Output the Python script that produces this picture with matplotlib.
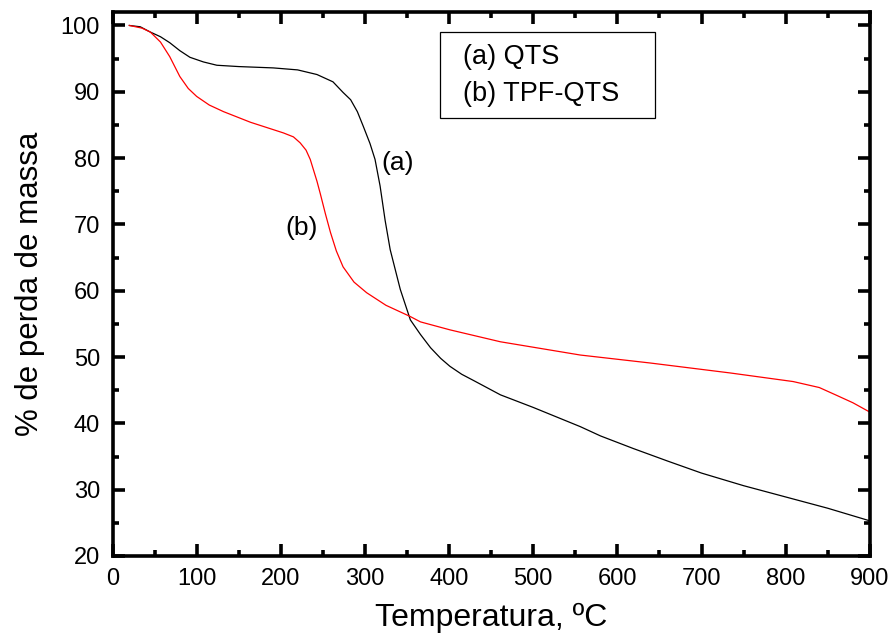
import numpy as np
import matplotlib
matplotlib.use("Agg")
import matplotlib.pyplot as plt
from matplotlib.patches import Rectangle
from matplotlib.ticker import MultipleLocator

plt.rcParams["font.family"] = ["Liberation Sans", "DejaVu Sans"]

# === dados ===
# (a) QTS
temp_a = [20, 33, 45, 57, 68, 80, 92, 108, 124, 150, 191, 220, 243, 262, 274, 283,
          291, 298, 306, 312, 318, 324, 330, 342, 354, 366, 378, 390, 401, 415, 430, 461, 500,
          556, 580, 619, 660, 700, 750, 800, 850, 900]
massa_a = [100, 99.8, 99.0, 98.3, 97.4, 96.2, 95.2, 94.5, 94.0, 93.8, 93.6, 93.3, 92.6, 91.5, 89.9, 88.8,
           87.0, 84.8, 82.2, 79.8, 75.8, 70.6, 66.2, 60.2, 55.6, 53.4, 51.4, 49.8, 48.6, 47.4, 46.4, 44.3, 42.4,
           39.5, 38.1, 36.2, 34.3, 32.5, 30.6, 28.9, 27.2, 25.3]

# (b) TPF-QTS
temp_b = [20, 35, 45, 57, 68, 80, 90, 100, 115, 132, 164, 203, 215, 223, 230, 235,
          243, 247, 253, 259, 266, 274, 287, 302, 325, 354, 366, 401, 461, 556,
          639, 734, 809, 840, 861, 880, 900]
massa_b = [100, 99.6, 99.0, 97.5, 95.3, 92.3, 90.5, 89.3, 88.0, 87.0, 85.4, 83.8, 83.2, 82.3, 81.2, 79.8,
           76.5, 74.6, 71.6, 68.8, 66.0, 63.6, 61.3, 59.7, 57.8, 56.1, 55.3, 54.1, 52.3, 50.3,
           49.1, 47.6, 46.3, 45.4, 44.2, 43.1, 41.7]

rotulos = ["(a) QTS", "(b) TPF-QTS"]

fig = plt.figure(figsize=(8.93, 6.42), dpi=100)
ax = fig.add_axes([0.126, 0.134, 0.848, 0.847])

ax.plot(temp_a, massa_a, color="black", lw=0.9)
ax.plot(temp_b, massa_b, color="red", lw=0.9)

ax.set_xlim(0, 900)
ax.set_ylim(20, 102)
ax.xaxis.set_major_locator(MultipleLocator(100))
ax.xaxis.set_minor_locator(MultipleLocator(50))
ax.yaxis.set_major_locator(MultipleLocator(10))
ax.yaxis.set_minor_locator(MultipleLocator(5))

for s in ax.spines.values():
    s.set_linewidth(2.6)
ax.tick_params(which="both", direction="in", top=True, right=True, width=2.6)
ax.tick_params(which="major", length=8.5, labelsize=17)
ax.tick_params(axis="x", which="major", pad=9)
ax.tick_params(axis="y", which="major", pad=9)
ax.tick_params(which="minor", length=4.5)

ax.set_xlabel("Temperatura, ºC", fontsize=23, labelpad=9)
ax.set_ylabel("% de perda de massa", fontsize=22.5, labelpad=11)

ax.text(339, 79.3, "(a)", fontsize=19, ha="center", va="center")
ax.text(225, 69.5, "(b)", fontsize=19, ha="center", va="center")

# caixa de legenda (sem amostras de linha)
ax.add_patch(Rectangle((0.432, 0.805), 0.284, 0.158, transform=ax.transAxes,
                       fill=False, edgecolor="black", lw=0.9))
ax.text(0.463, 0.917, rotulos[0], transform=ax.transAxes, fontsize=19.5, va="center")
ax.text(0.463, 0.849, rotulos[1], transform=ax.transAxes, fontsize=19.5, va="center")

fig.savefig("out.png", dpi=100)
